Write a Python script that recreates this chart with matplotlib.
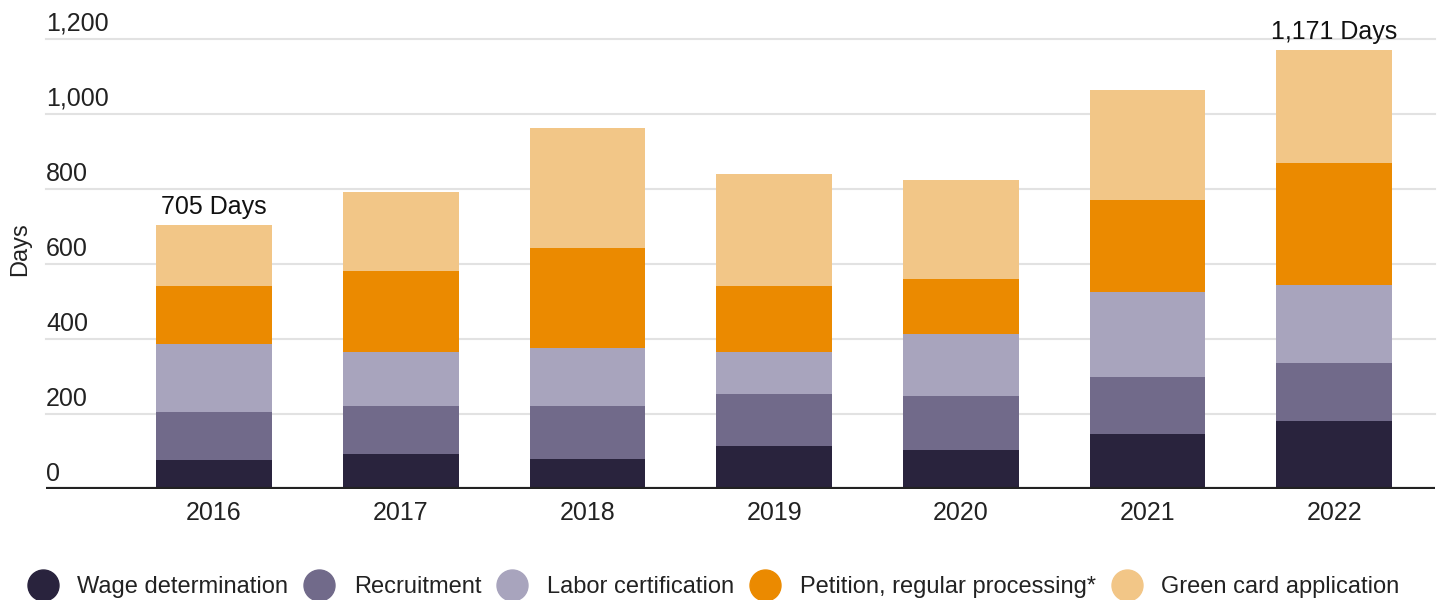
import matplotlib
matplotlib.use("Agg")
import matplotlib.pyplot as plt
from matplotlib.lines import Line2D
import numpy as np

plt.rcParams['font.family'] = ['Liberation Sans', 'DejaVu Sans']

years = ["2016", "2017", "2018", "2019", "2020", "2021", "2022"]
wage_determination = [77, 93, 80, 115, 104, 147, 181]
recruitment = [128, 128, 141, 138, 144, 152, 155]
labor_certification = [182, 144, 155, 113, 165, 226, 208]
petition_regular = [154, 216, 267, 175, 147, 246, 325]
green_card = [164, 211, 320, 299, 264, 293, 302]
series_names = ["Wage determination", "Recruitment", "Labor certification",
                "Petition, regular processing*", "Green card application"]
annotations = {0: "705 Days", 6: "1,171 Days"}
yticks = [0, 200, 400, 600, 800, 1000, 1200]

colors = ["#29233d", "#716a8a", "#a8a4bd", "#eb8a00", "#f2c687"]
text_color = "#222222"

fig = plt.figure(figsize=(14.4, 6), dpi=100)
ax = fig.add_axes([46/1440, 1 - 489/600, (1435-46)/1440, (489-39)/600])

series = [wage_determination, recruitment, labor_certification, petition_regular, green_card]
x = np.arange(len(years))
bottom = np.zeros(len(years))
for vals, c in zip(series, colors):
    ax.bar(x, vals, bottom=bottom, width=0.62, color=c, zorder=2)
    bottom += np.array(vals)

ax.set_xlim(-0.9, 6.54)
ax.set_ylim(0, 1200)

for yv in yticks[1:]:
    ax.axhline(yv, color="#e2e2e2", lw=1.5, zorder=1, clip_on=False)
ax.axhline(0, color="#222222", lw=3, zorder=3)

for s in ax.spines.values():
    s.set_visible(False)
ax.set_yticks([])
ax.set_xticks(x)
ax.set_xticklabels(years, fontsize=18, color=text_color)
ax.tick_params(axis='x', length=0, pad=9)

for yv in yticks:
    ax.text(0, yv + 22, f"{yv:,}", transform=ax.get_yaxis_transform(), ha="left",
            va="baseline", fontsize=18, color=text_color)

ax.set_ylabel("Days", fontsize=17, color=text_color)
ax.yaxis.set_label_coords(-0.011, 0.533)

for i, label in annotations.items():
    ax.text(x[i], bottom[i] + 29, label, ha="center", va="baseline", fontsize=18,
            color="#111111", clip_on=False)

handles = [Line2D([0], [0], marker='o', linestyle='none', markersize=22.3,
                  markerfacecolor=c, markeredgecolor=c) for c in colors]
fig.legend(handles, series_names, loc="center left", bbox_to_anchor=(16.6/1440, 1 - 587/600),
           ncol=5, frameon=False, fontsize=17, handletextpad=0.76, columnspacing=0.62,
           labelcolor=text_color, borderaxespad=0, handlelength=1.4)

fig.savefig("out.png", dpi=100)
